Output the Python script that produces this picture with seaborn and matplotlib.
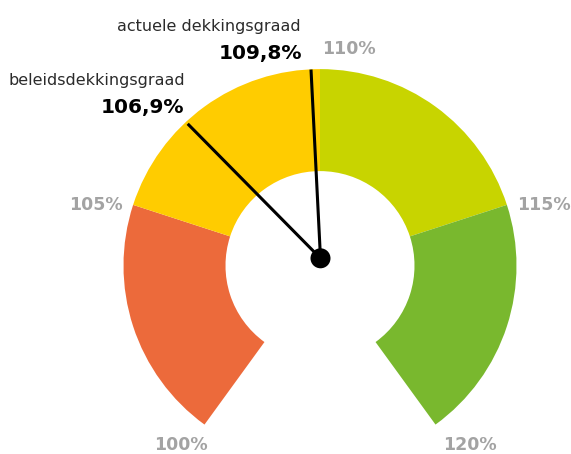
import numpy as np
import matplotlib
matplotlib.use("Agg")
import matplotlib.pyplot as plt
from matplotlib.patches import Wedge, Circle
import seaborn as sns

# ---- data ----
band_bounds = [100, 105, 110, 115, 120]
band_colors = ["#EC6A3B", "#FFCC00", "#C8D400", "#79B82E"]
tick_values = [100, 105, 110, 115, 120]
tick_labels = ["100%", "105%", "110%", "115%", "120%"]
needle_names = ["actuele dekkingsgraad", "beleidsdekkingsgraad"]
needle_values = [109.8, 106.9]
needle_labels = ["109,8%", "106,9%"]

sns.set_theme(style="white")
plt.rcParams["font.family"] = ["DejaVu Sans"]

W, H = 571, 454
fig = plt.figure(figsize=(W / 100, H / 100), dpi=100)
ax = fig.add_axes([0, 0, 1, 1])
ax.set_xlim(0, W)
ax.set_ylim(0, H)
ax.set_axis_off()

# layout (pixel space, y measured from top then flipped)
cx, cy = 320, H - 265.6
R_out, R_in = 196.5, 94.5
px, py = 320.5, H - 258.3   # needle pivot
vmin, vmax = band_bounds[0], band_bounds[-1]
span = 288.0
vmid = (vmin + vmax) / 2


def theta(v):
    """math angle (deg) for a gauge value"""
    return 90 - (v - vmid) * span / (vmax - vmin)


for a, b, c in zip(band_bounds[:-1], band_bounds[1:], band_colors):
    ax.add_patch(Wedge((cx, cy), R_out, theta(b), theta(a),
                       width=R_out - R_in, facecolor=c, edgecolor="none",
                       antialiased=True))

# tick labels
gray = "#A3A3A3"
for v, t in zip(tick_values, tick_labels):
    ang = np.deg2rad(theta(v))
    ox, oy = cx + R_out * np.cos(ang), cy + R_out * np.sin(ang)
    if v == vmid:
        x, y, ha, va = ox + 2, oy + 11, "left", "bottom"
    elif oy < cy - 100:  # bottom ends
        if ox < cx:
            x, y, ha, va = ox - 24, oy - 20.5, "center", "center"
        else:
            x, y, ha, va = ox + 34, oy - 20.5, "center", "center"
    else:
        if ox < cx:
            x, y, ha, va = ox - 10, oy - 0.5, "right", "center"
        else:
            x, y, ha, va = ox + 10, oy - 0.5, "left", "center"
    ax.text(x, y, t, ha=ha, va=va, color=gray, fontsize=12.5,
            fontweight="bold")

# needles
needle_len = 189
for v in needle_values:
    ang = np.deg2rad(theta(v))
    ax.plot([px, px + needle_len * np.cos(ang)],
            [py, py + needle_len * np.sin(ang)],
            color="black", lw=2.2, solid_capstyle="butt", zorder=5)
ax.add_patch(Circle((px, py), 10, facecolor="black", edgecolor="none",
                    zorder=6))

# needle annotations
name_pos = [(301, H - 26), (185, H - 80)]
val_pos = [(302, H - 53), (184, H - 107)]
for n, lab, (nx, ny), (vx, vy) in zip(needle_names, needle_labels,
                                     name_pos, val_pos):
    ax.text(nx, ny, n, ha="right", va="center", fontsize=11.5,
            color="#2b2b2b")
    ax.text(vx, vy, lab, ha="right", va="center", fontsize=14.5,
            fontweight="bold", color="black")

fig.savefig("out.png", dpi=100)
